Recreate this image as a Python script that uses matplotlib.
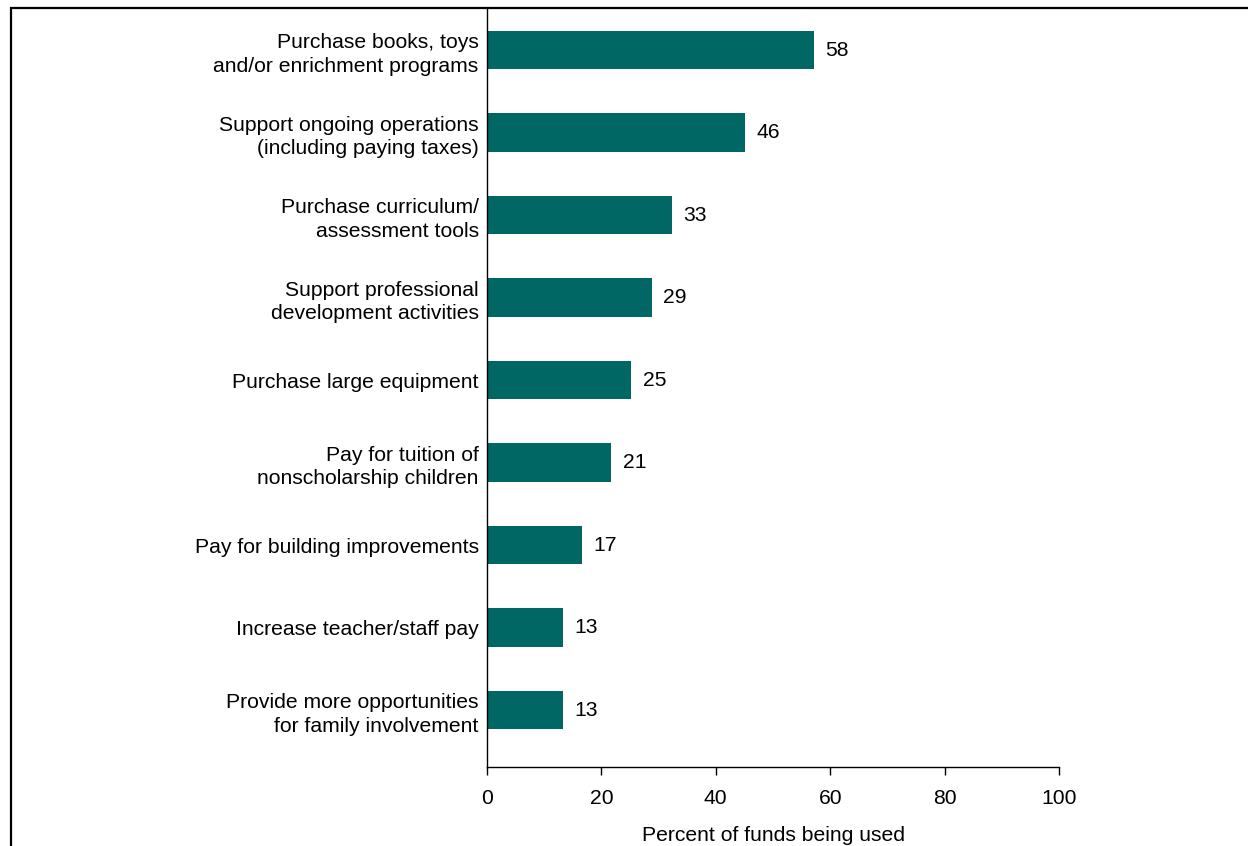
import matplotlib
matplotlib.use("Agg")
import matplotlib.pyplot as plt
from matplotlib.patches import Rectangle

categories = [
    "Purchase books, toys\nand/or enrichment programs",
    "Support ongoing operations\n(including paying taxes)",
    "Purchase curriculum/\nassessment tools",
    "Support professional\ndevelopment activities",
    "Purchase large equipment",
    "Pay for tuition of\nnonscholarship children",
    "Pay for building improvements",
    "Increase teacher/staff pay",
    "Provide more opportunities\nfor family involvement",
]
values = [57.2, 45.1, 32.3, 28.8, 25.2, 21.7, 16.6, 13.3, 13.3]
value_labels = ["58", "46", "33", "29", "25", "21", "17", "13", "13"]
xticks = [0, 20, 40, 60, 80, 100]
xlabel = "Percent of funds being used"

plt.rcParams['font.family'] = ['Liberation Sans', 'DejaVu Sans']
FS = 15.2

fig = plt.figure(figsize=(12.48, 8.46), dpi=100)
ax = fig.add_axes([487/1248, 1-767/846, (1059-487)/1248, (767-8)/846])

pos = list(range(len(categories)))
ax.barh(pos, values, height=0.47, color="#006764")
for p, v, t in zip(pos, values, value_labels):
    ax.text(v + 2.0, p, t, va="center", ha="left", fontsize=FS)

ax.set_ylim(len(categories) - 1 + 0.69, -0.51)
ax.set_xlim(0, 100)
ax.set_yticks(pos)
ax.set_yticklabels(categories, fontsize=FS, ha="right", linespacing=1.32)
ax.tick_params(axis="y", length=0, pad=6)
ax.set_xticks(xticks)
ax.set_xticklabels([str(x) for x in xticks], fontsize=FS)
ax.tick_params(axis="x", length=6, width=1, pad=10)
ax.set_xlabel(xlabel, fontsize=FS, labelpad=13)
for s in ["top", "right"]:
    ax.spines[s].set_visible(False)
for s in ["left", "bottom"]:
    ax.spines[s].set_linewidth(1)

fig.patches.append(Rectangle((11/1248, -0.2), 1.5, 1.2 - 7.5/846, transform=fig.transFigure,
                             fill=False, edgecolor="black", linewidth=1.6, zorder=10))

fig.savefig("out.png", dpi=100)
